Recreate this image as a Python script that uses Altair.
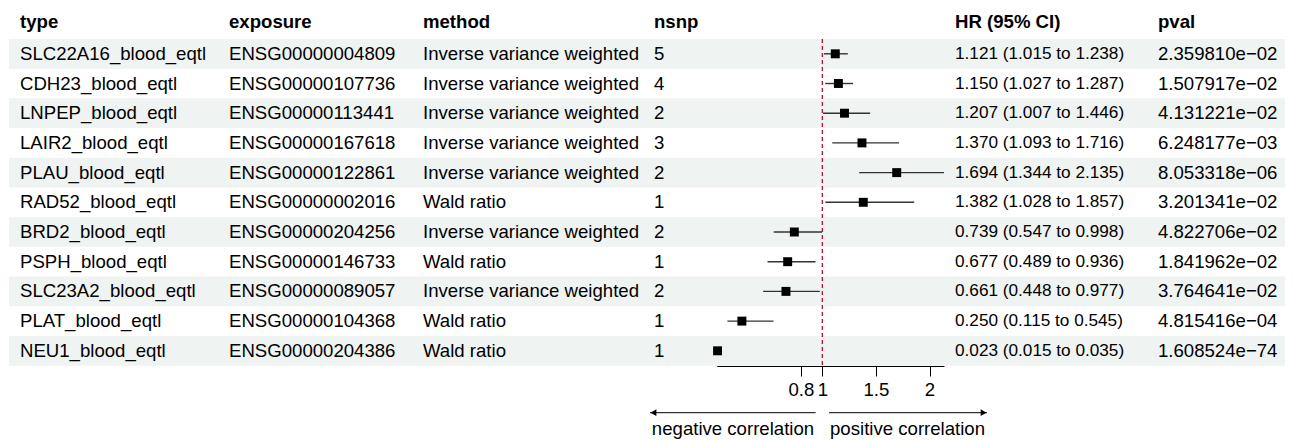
import altair as alt
import pandas as pd

types = ["SLC22A16_blood_eqtl", "CDH23_blood_eqtl", "LNPEP_blood_eqtl", "LAIR2_blood_eqtl",
         "PLAU_blood_eqtl", "RAD52_blood_eqtl", "BRD2_blood_eqtl", "PSPH_blood_eqtl",
         "SLC23A2_blood_eqtl", "PLAT_blood_eqtl", "NEU1_blood_eqtl"]
exposures = ["ENSG00000004809", "ENSG00000107736", "ENSG00000113441", "ENSG00000167618",
             "ENSG00000122861", "ENSG00000002016", "ENSG00000204256", "ENSG00000146733",
             "ENSG00000089057", "ENSG00000104368", "ENSG00000204386"]
methods = ["Inverse variance weighted", "Inverse variance weighted", "Inverse variance weighted",
           "Inverse variance weighted", "Inverse variance weighted", "Wald ratio",
           "Inverse variance weighted", "Wald ratio", "Inverse variance weighted",
           "Wald ratio", "Wald ratio"]
nsnp = [5, 4, 2, 3, 2, 1, 2, 1, 2, 1, 1]
hr = [1.121, 1.150, 1.207, 1.370, 1.694, 1.382, 0.739, 0.677, 0.661, 0.250, 0.023]
lo = [1.015, 1.027, 1.007, 1.093, 1.344, 1.028, 0.547, 0.489, 0.448, 0.115, 0.015]
hi = [1.238, 1.287, 1.446, 1.716, 2.135, 1.857, 0.998, 0.936, 0.977, 0.545, 0.035]
pvals = ["2.359810e\u221202", "1.507917e\u221202", "4.131221e\u221202", "6.248177e\u221203",
         "8.053318e\u221206", "3.201341e\u221202", "4.822706e\u221202", "1.841962e\u221202",
         "3.764641e\u221202", "4.815416e\u221204", "1.608524e\u221274"]
headers = ["type", "exposure", "method", "nsnp", "HR (95% CI)", "pval"]
tick_values = [0.8, 1, 1.5, 2]

df = pd.DataFrame({
    "row": list(range(len(types))),
    "type": types,
    "exposure": exposures,
    "method": methods,
    "nsnp": [str(n) for n in nsnp],
    "hr": hr,
    "lo": lo,
    "hi": hi,
    "ci": [f"{h:.3f} ({l:.3f} to {u:.3f})" for h, l, u in zip(hr, lo, hi)],
    "pval": pvals,
})
df["y0"] = df["row"] - 0.5
df["y1"] = df["row"] + 0.5

FONT = "Liberation Sans"
FS = 18.6
FS_CI = 17.2
W, H = 1277, 358

yscale = alt.Scale(domain=[0, 10], range=[45.8, 342.8], zero=False, nice=False)
xscale = alt.Scale(domain=[min(lo), max(hi)], range=[708.7, 936], zero=False, nice=False)

bands = alt.Chart(df[df["row"] % 2 == 0]).mark_rect(color="#eff3f2").encode(
    x=alt.value(1), x2=alt.value(W),
    y=alt.Y("y0:Q", scale=yscale, axis=None), y2="y1:Q")

col_x = [12, 221, 415, 646, 947, 1150]
fields = ["type", "exposure", "method", "nsnp", "ci", "pval"]

layers = [bands]
for h, f, cx in zip(headers, fields, col_x):
    fs = FS_CI if f == "ci" else FS
    layers.append(
        alt.Chart(df).mark_text(align="left", baseline="middle", font=FONT, fontSize=fs, color="black")
        .encode(x=alt.value(cx), y=alt.Y("row:Q", scale=yscale, axis=None), text=f"{f}:N"))
    layers.append(
        alt.Chart(pd.DataFrame({"h": [h]})).mark_text(align="left", baseline="middle", font=FONT,
                                                       fontSize=FS, fontWeight="bold", color="black")
        .encode(x=alt.value(cx), y=alt.value(13.7), text="h:N"))

xaxis = alt.Axis(values=tick_values, format="~g", tickSize=10, labelFontSize=FS, labelFont=FONT,
                 labelColor="black", domainColor="black", tickColor="black", grid=False, title=None,
                 labelPadding=4, domainWidth=1, tickWidth=1, labelOverlap=False, labelFlush=False)

ci = alt.Chart(df).mark_rule(color="#333333", strokeWidth=1.4).encode(
    x=alt.X("lo:Q", scale=xscale, axis=xaxis), x2="hi:Q",
    y=alt.Y("row:Q", scale=yscale, axis=None))
pts = alt.Chart(df).mark_square(size=80, color="black", opacity=1).encode(
    x=alt.X("hr:Q", scale=xscale), y=alt.Y("row:Q", scale=yscale, axis=None))

ref = alt.Chart(pd.DataFrame({"ref": [1.0]})).mark_rule(
    color="#B8001F", strokeDash=[4, 3], strokeWidth=1.2).encode(
    x=alt.X("ref:Q", scale=xscale), y=alt.value(31), y2=alt.value(H))

ARROW_Y = 404.7
left_arrow = alt.Chart(pd.DataFrame({"a": [0]})).mark_rule(color="black", strokeWidth=1).encode(
    x=alt.datum(-0.607), x2=alt.datum(0.938), y=alt.value(ARROW_Y))
right_arrow = alt.Chart(pd.DataFrame({"a": [0]})).mark_rule(color="black", strokeWidth=1).encode(
    x=alt.datum(1.063), x2=alt.datum(2.536), y=alt.value(ARROW_Y))
left_head = alt.Chart(pd.DataFrame({"a": [0]})).mark_point(
    shape="triangle-left", filled=True, size=45, color="black", opacity=1).encode(
    x=alt.datum(-0.575), y=alt.value(ARROW_Y))
right_head = alt.Chart(pd.DataFrame({"a": [0]})).mark_point(
    shape="triangle-right", filled=True, size=45, color="black", opacity=1).encode(
    x=alt.datum(2.504), y=alt.value(ARROW_Y))
neg_txt = alt.Chart(pd.DataFrame({"t": ["negative correlation"]})).mark_text(
    align="center", baseline="middle", font=FONT, fontSize=FS, color="black").encode(
    x=alt.datum(0.167), y=alt.value(420.5), text="t:N")
pos_txt = alt.Chart(pd.DataFrame({"t": ["positive correlation"]})).mark_text(
    align="center", baseline="middle", font=FONT, fontSize=FS, color="black").encode(
    x=alt.datum(1.795), y=alt.value(420.5), text="t:N")

chart = alt.layer(*layers, ci, pts, ref, left_arrow, right_arrow, left_head, right_head,
                  neg_txt, pos_txt).properties(
    width=W, height=H, autosize="none",
    padding={"left": 0, "right": 0, "top": 0, "bottom": 75},
    background="white",
).configure_view(stroke=None)

chart.save("out.html", embed_options={"renderer": "svg", "actions": False})
